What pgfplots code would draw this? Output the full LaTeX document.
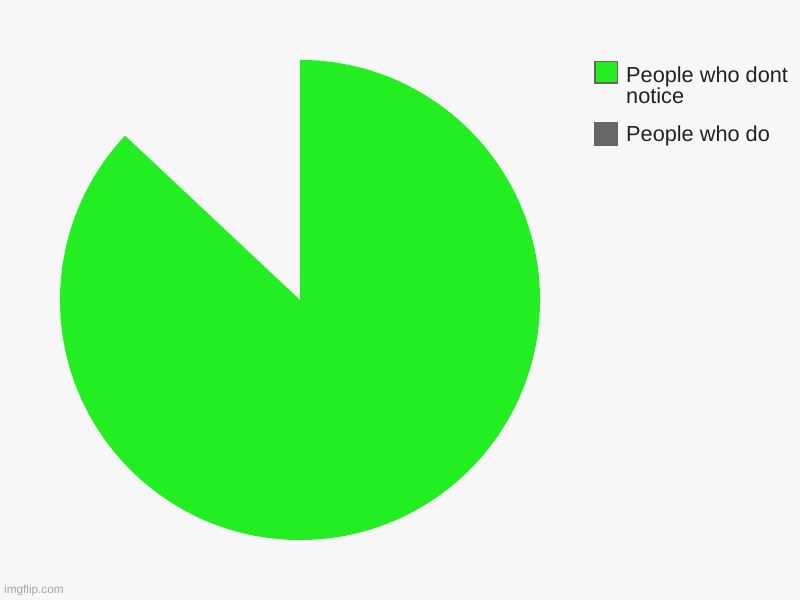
\documentclass[border=0pt]{standalone}
\usepackage{pgfplots}
\pgfplotsset{compat=1.18}
\usepackage{pgfplotstable}
\usepackage{fontspec}
\setmainfont{Liberation Sans}
\definecolor{bgc}{HTML}{F7F7F7}
\definecolor{pgreen}{HTML}{22EE22}
\definecolor{pgray}{HTML}{666666}
\definecolor{txt}{HTML}{222222}
\pgfplotstableread{
label value
dontnotice 87
do 13
}\piedata
\begin{document}
\begin{tikzpicture}[x=1bp,y=1bp]
\pgfplotstablegetelem{0}{value}\of\piedata \let\va\pgfplotsretval
\pgfplotstablegetelem{1}{value}\of\piedata \let\vb\pgfplotsretval
\pgfmathsetmacro{\tot}{\va+\vb}
\pgfmathsetmacro{\angA}{\va/\tot*360}
\pgfmathsetmacro{\endA}{90-\angA}
\fill[bgc] (0,0) rectangle (800,600);
\useasboundingbox (0,0) rectangle (800,600);
\begin{axis}[
  at={(60bp,60bp)}, anchor=south west,
  scale only axis, width=480bp, height=480bp,
  xmin=-1, xmax=1, ymin=-1, ymax=1,
  hide axis, clip=false,
]
\fill[pgreen] (axis cs:0,0) -- (axis cs:0,1) arc[start angle=90, end angle=\endA, radius=240bp] -- cycle;
\end{axis}
% legend
\fill[pgreen, draw=pgray, line width=1.5bp] (594.75,516.75) rectangle (617.25,538.25);
\fill[pgray] (594,454) rectangle (618,478);
\node[anchor=base west, inner sep=0, text=txt, font=\fontsize{21.8}{21.8}\selectfont] at (626,517.5) {People who dont};
\node[anchor=base west, inner sep=0, text=txt, font=\fontsize{21.8}{21.8}\selectfont] at (626,496) {notice};
\node[anchor=base west, inner sep=0, text=txt, font=\fontsize{21.8}{21.8}\selectfont] at (626,458.5) {People who do};
\node[anchor=base west, inner sep=0, text=black!35, font=\fontsize{11.8}{11.8}\selectfont] at (4,6) {imgflip.com};
\end{tikzpicture}
\end{document}
